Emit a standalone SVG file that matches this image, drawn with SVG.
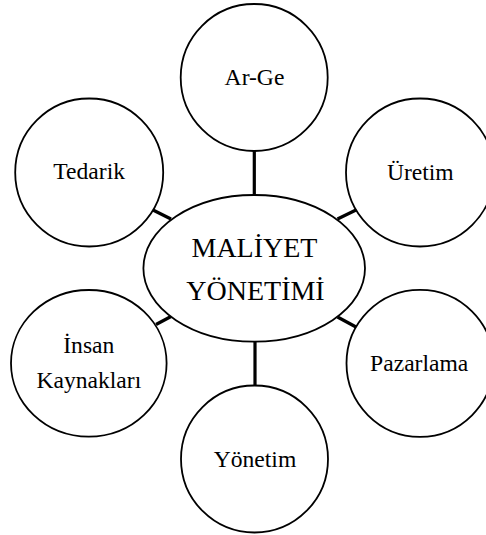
<svg xmlns="http://www.w3.org/2000/svg" width="486" height="535" viewBox="0 0 486 535">
<style>
.n{fill:#fff;stroke:#000;stroke-width:1.8}
.t{font-family:"Liberation Serif","Times New Roman",serif;font-size:23.6px;fill:#000;text-anchor:middle}
.c{stroke:#000;stroke-width:3.2;fill:none}
</style>
<rect width="486" height="535" fill="#fff"/>
<g id="connectors">
<line class="c" x1="254.3" y1="150" x2="254.3" y2="196"/>
<line class="c" x1="255" y1="341" x2="255" y2="386"/>
<line class="c" x1="152" y1="209.5" x2="171" y2="219"/>
<line class="c" x1="337.5" y1="219" x2="356" y2="210"/>
<line class="c" x1="337.5" y1="317" x2="356" y2="327"/>
<line class="c" x1="156" y1="324.5" x2="171" y2="316.5"/>
</g>
<g id="center">
<ellipse class="n" cx="254.2" cy="268.3" rx="110.8" ry="73.3"/>
<text class="t" x="254.5" y="256.7" style="font-size:28px">MALİYET</text>
<text class="t" x="255.5" y="300" style="font-size:28px">YÖNETİMİ</text>
</g>
<g id="arge">
<circle class="n" cx="254.2" cy="77.5" r="73.5"/>
<text class="t" x="254.5" y="85">Ar-Ge</text>
</g>
<g id="tedarik">
<circle class="n" cx="89.2" cy="172.5" r="74"/>
<text class="t" x="89.2" y="179.3">Tedarik</text>
</g>
<g id="uretim">
<circle class="n" cx="420" cy="172.5" r="74"/>
<text class="t" x="420.3" y="180">Üretim</text>
</g>
<g id="insan">
<ellipse class="n" cx="88.8" cy="363.3" rx="77.8" ry="73.3"/>
<text class="t" x="88.8" y="353.3">İnsan</text>
<text class="t" x="88.8" y="388.3">Kaynakları</text>
</g>
<g id="pazarlama">
<circle class="n" cx="420" cy="363.3" r="73.5"/>
<text class="t" x="419.2" y="370.7">Pazarlama</text>
</g>
<g id="yonetim">
<circle class="n" cx="254.5" cy="459" r="73.5"/>
<text class="t" x="255" y="466.7">Yönetim</text>
</g>
</svg>
